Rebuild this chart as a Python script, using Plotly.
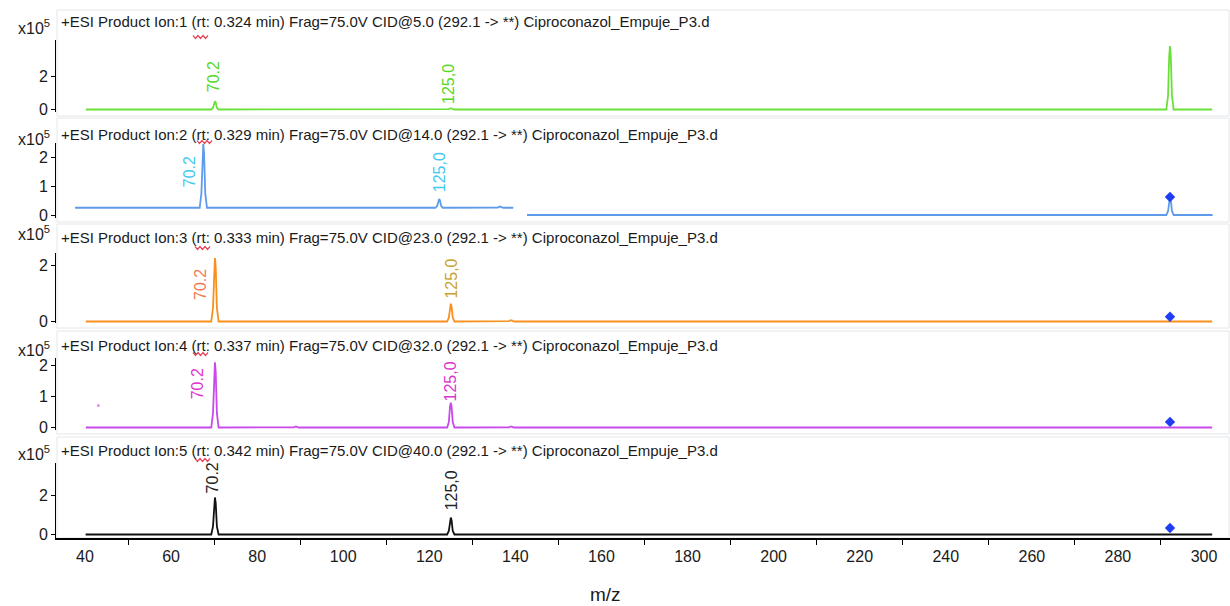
import plotly.graph_objects as go

# ---------------------------------------------------------------- data
# m/z axis
mz_tick_labels = [40, 60, 80, 100, 120, 140, 160, 180, 200, 220, 240, 260, 280, 300]
mz_minor_ticks = [50, 70, 90, 110, 130, 150, 170, 190, 210, 230, 250, 270, 290]

precursor_mz = 292.1

titles = [
    "+ESI Product Ion:1 (rt: 0.324 min) Frag=75.0V CID@5.0 (292.1 -> **) Ciproconazol_Empuje_P3.d",
    "+ESI Product Ion:2 (rt: 0.329 min) Frag=75.0V CID@14.0 (292.1 -> **) Ciproconazol_Empuje_P3.d",
    "+ESI Product Ion:3 (rt: 0.333 min) Frag=75.0V CID@23.0 (292.1 -> **) Ciproconazol_Empuje_P3.d",
    "+ESI Product Ion:4 (rt: 0.337 min) Frag=75.0V CID@32.0 (292.1 -> **) Ciproconazol_Empuje_P3.d",
    "+ESI Product Ion:5 (rt: 0.342 min) Frag=75.0V CID@40.0 (292.1 -> **) Ciproconazol_Empuje_P3.d",
]

# intensities in units of 1e5 counts
# CID 5 V
p1_mz = [70.2, 125.0, 139.0, 292.1]
p1_int = [0.50, 0.08, 0.03, 3.85]

# CID 14 V : low-mass segment (raised baseline, displayed with an m/z offset) and high-mass segment
p2a_mz = [70.2, 125.0, 139.1]
p2a_int = [2.45, 0.55, 0.29]
p2a_baseline = 0.25
p2a_range = [40.4, 142.2]
p2a_offset = -2.7
p2b_mz = [292.1]
p2b_int = [0.62]
p2b_range = [142.7, 302.0]

# CID 23 V
p3_mz = [70.2, 125.0, 139.0]
p3_int = [2.25, 0.63, 0.05]

# CID 32 V
p4_mz = [70.2, 89.0, 125.0, 139.0]
p4_int = [2.10, 0.03, 0.80, 0.03]
p4_spike_mz = [43.1]
p4_spike_int = [0.71]

# CID 40 V
p5_mz = [41.0, 43.0, 70.2, 89.0, 99.0, 111.0, 125.0, 139.0]
p5_int = [0.03, 0.03, 1.90, 0.03, 0.02, 0.02, 0.87, 0.03]

# precursor marker heights
precursor_marker = [None, 0.62, 0.17, 0.18, 0.33]

peak_labels = ["70.2", "125,0"]
label_mz = [70.2, 125.0]

# ---------------------------------------------------------------- style
FONT = "Liberation Sans, Arial, sans-serif"
W, H = 1230, 606
ML, MR, MT, MB = 56, 0, 10, 68
PW, PH = W - ML - MR, H - MT - MB

line_colors = ["#6BE03A", "#5E9CEB", "#F7901E", "#C84AEA", "#111111"]
label_colors = [
    ["#55D824", "#55D824"],
    ["#45C8F0", "#45C8F0"],
    ["#F27A52", "#C9A42A"],
    ["#DE34CF", "#DE34CF"],
    ["#222222", "#222222"],
]
# label centre offsets (px) from each labelled peak apex
label_shift = [
    [(-2, 25), (-3, 24)],
    [(-13, -28), (0, 27)],
    [(-15, -26), (1, 25)],
    [(-18, -21), (0, 21)],
    [(-2, 20), (1, 27)],
]

# panel geometry in page pixels: y-axis extent, zero line, px per unit
axis_px = [(40, 112), (143, 218), (253, 323), (358, 430), (463, 538)]
zero_px = [109.5, 215, 321.5, 427.5, 534.5]
unit_px = [16.5, 29, 28.2, 31, 19.5]
yticks = [[0, 2], [0, 1, 2], [0, 2], [0, 1, 2], [0, 2]]
frame_px = [(10, 116), (118, 222), (224, 328), (331, 434), (437, 538)]
title_px = [22, 135, 238, 345, 450]
x10_px = [27, 138, 233, 349, 453]
squiggle_px = [(193, 37), (197, 142), (195, 248), (193, 354), (195, 460)]

PEAK_DX = [-0.85, -0.45, -0.18, 0.0, 0.18, 0.45, 0.85]
PEAK_FR = [0.0, 0.22, 0.85, 1.0, 0.85, 0.22, 0.0]


def px_x(px):
    return (px - ML) / PW


def px_y(py):
    return (H - MB - py) / PH


def profile(start, end, base, mzs, ints, shift=0.0):
    xs, ys = [start + shift], [base]
    for m, h in sorted(zip(mzs, ints)):
        for dx, f in zip(PEAK_DX, PEAK_FR):
            xs.append(m + dx + shift)
            ys.append(base + (h - base) * f)
    xs.append(end + shift)
    ys.append(base)
    return xs, ys


# plotted segments per panel
segments = [
    [profile(40.2, 301.9, 0.0, p1_mz, p1_int)],
    [profile(p2a_range[0], p2a_range[1], p2a_baseline, p2a_mz, p2a_int, p2a_offset),
     profile(p2b_range[0], p2b_range[1], 0.0, p2b_mz, p2b_int)],
    [profile(40.2, 301.9, 0.0, p3_mz, p3_int)],
    [profile(40.2, 301.9, 0.0, p4_mz, p4_int)],
    [profile(40.2, 301.9, 0.0, p5_mz, p5_int)],
]


# labelled peak apex for each panel: (drawn m/z, intensity)
def apex(mzs, ints, target, shift=0.0):
    i = mzs.index(target)
    return mzs[i] + shift, ints[i]


label_apex = [
    [apex(p1_mz, p1_int, m) for m in label_mz],
    [apex(p2a_mz, p2a_int, m, p2a_offset) for m in label_mz],
    [apex(p3_mz, p3_int, m) for m in label_mz],
    [apex(p4_mz, p4_int, m) for m in label_mz],
    [apex(p5_mz, p5_int, m) for m in label_mz],
]

fig = go.Figure()
annotations = []
shapes = []
layout_axes = {}

for i in range(5):
    yname = "y" if i == 0 else f"y{i + 1}"
    ykey = "yaxis" if i == 0 else f"yaxis{i + 1}"
    top_px, bot_px = axis_px[i]
    lo = -(bot_px - zero_px[i]) / unit_px[i]
    hi = (zero_px[i] - top_px) / unit_px[i]
    layout_axes[ykey] = dict(
        domain=[px_y(bot_px), px_y(top_px)], range=[lo, hi], anchor="x",
        showline=True, linecolor="#000000", linewidth=1, mirror=False,
        ticks="outside", ticklen=4, tickcolor="#000000",
        tickvals=yticks[i], ticktext=[str(v) for v in yticks[i]],
        showgrid=False, zeroline=False,
        tickfont=dict(family=FONT, size=16, color="#1a1a1a"),
    )

    for xs, ys in segments[i]:
        fig.add_trace(go.Scatter(
            x=xs, y=ys, xaxis="x", yaxis=yname, mode="lines",
            line=dict(color=line_colors[i], width=1.8), hoverinfo="skip",
            showlegend=False,
        ))

    if precursor_marker[i] is not None:
        fig.add_trace(go.Scatter(
            x=[precursor_mz], y=[precursor_marker[i]], xaxis="x", yaxis=yname,
            mode="markers", marker=dict(symbol="diamond", size=8, color="#1F3DF2"),
            showlegend=False, hoverinfo="skip",
        ))

    for j, text in enumerate(peak_labels):
        ax_mz, ax_int = label_apex[i][j]
        dx, dy = label_shift[i][j]
        annotations.append(dict(
            x=ax_mz, y=ax_int, xref="x", yref=yname, text=text, showarrow=False,
            textangle=-90, xanchor="center", yanchor="middle", xshift=dx, yshift=dy,
            font=dict(family=FONT, size=16, color=label_colors[i][j]),
        ))

    annotations.append(dict(
        x=px_x(59), y=px_y(title_px[i]), xref="paper", yref="paper", text=titles[i],
        showarrow=False, xanchor="left", yanchor="middle",
        font=dict(family=FONT, size=15, color="#1a1a1a"),
    ))
    annotations.append(dict(
        x=px_x(52), y=px_y(x10_px[i]), xref="paper", yref="paper",
        text="x10<sup>5</sup>", showarrow=False, xanchor="right", yanchor="middle",
        font=dict(family=FONT, size=16, color="#1a1a1a"),
    ))

    ft, fb = frame_px[i]
    shapes.append(dict(
        type="rect", xref="paper", yref="paper", x0=px_x(57), x1=px_x(1229),
        y0=px_y(fb), y1=px_y(ft), line=dict(color="#E4E6E8", width=1), layer="below",
    ))

    sx, sy = squiggle_px[i]
    pts = [(sx + k * 2.5, sy + (1.5 if k % 2 else -1.5)) for k in range(7)]
    path = "M " + " L ".join(f"{px_x(a):.5f},{px_y(b):.5f}" for a, b in pts)
    shapes.append(dict(type="path", xref="paper", yref="paper", path=path,
                       line=dict(color="#E8465A", width=1.2)))

# isolated spike in the CID 32 V trace
fig.add_trace(go.Scatter(
    x=p4_spike_mz, y=p4_spike_int, xaxis="x", yaxis="y4", mode="markers",
    marker=dict(size=3, color="#E58CF0"), showlegend=False, hoverinfo="skip",
))

x_lo = 50 + (ML - 128) / 4.304
x_hi = 50 + (W - MR - 128) / 4.304

annotations.append(dict(
    x=px_x(605), y=px_y(594), xref="paper", yref="paper", text="m/z",
    showarrow=False, xanchor="center", yanchor="middle",
    font=dict(family=FONT, size=19, color="#1a1a1a"),
))

fig.update_layout(
    width=W, height=H, margin=dict(l=ML, r=MR, t=MT, b=MB),
    paper_bgcolor="#ffffff", plot_bgcolor="#ffffff",
    xaxis=dict(
        range=[x_lo, x_hi], anchor="y5", showline=True, linecolor="#000000",
        linewidth=1.5, showgrid=False, zeroline=False,
        tickvals=mz_tick_labels, ticktext=[str(v) for v in mz_tick_labels],
        ticks="outside", ticklen=3, tickcolor="rgba(0,0,0,0)",
        tickfont=dict(family=FONT, size=16, color="#1a1a1a"),
        minor=dict(tickvals=mz_minor_ticks, ticks="outside", ticklen=5,
                   tickcolor="#000000", tickwidth=1, showgrid=False),
    ),
    annotations=annotations, shapes=shapes, showlegend=False,
    **layout_axes,
)

fig.write_html("out.html")
